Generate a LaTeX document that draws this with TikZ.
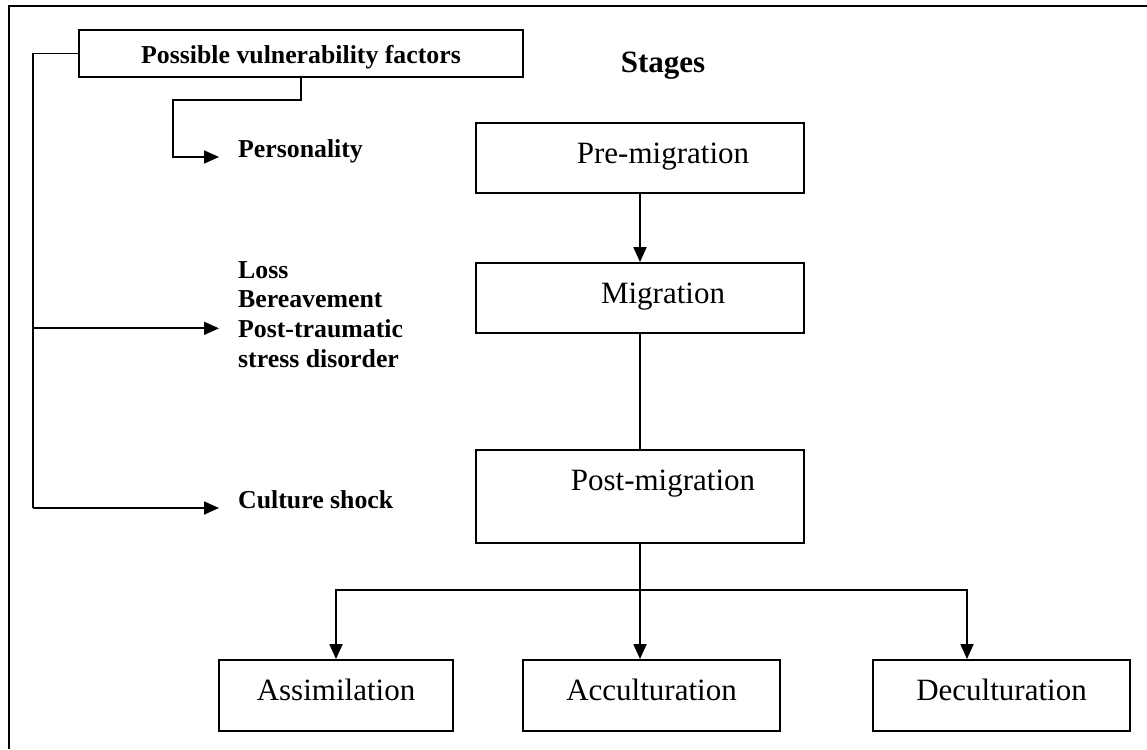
\documentclass[tikz,border=0pt]{standalone}
\usepackage{fontspec}
\setmainfont{Liberation Serif}
\usepackage{tikz}
\usetikzlibrary{arrows.meta, positioning}

\begin{document}
\begin{tikzpicture}[x=1pt, y=-1pt,
stagenode/.style={rectangle, draw, line width=1.8pt, minimum width=328pt, inner sep=0pt, text height=40pt, text depth=30pt, font=\fontsize{31}{36}\selectfont, execute at begin node=\hspace*{46pt}},
endnode/.style={rectangle, draw, line width=1.8pt, inner sep=0pt, text height=40pt, text depth=31pt, font=\fontsize{31}{36}\selectfont},
factornode/.style={inner xsep=19pt, inner ysep=0pt, align=left, font=\fontsize{25.8}{29.7}\selectfont\bfseries},
line/.style={line width=1.8pt},
arrowline/.style={line width=1.8pt, -{Triangle[length=15pt,width=13pt]}},
]
\useasboundingbox (0,0) rectangle (1147,749);
\draw[line] (9,749) -- (9,6) -- (1147,6);

%Nodes
\node[draw, line width=1.8pt, minimum width=444pt, inner sep=0pt, text height=34pt, text depth=13pt, font=\fontsize{25.8}{30}\selectfont\bfseries] at (301,53.5) (vuln) {Possible vulnerability factors};
\node[anchor=base, font=\fontsize{31}{36}\selectfont\bfseries] at (663,73) (stages) {Stages};
\node[factornode, anchor=base west] at (219,157) (pers) {Personality};
\node[factornode, anchor=north west] at (219,261) (loss) {Loss\\Bereavement\\Post-traumatic\\stress disorder};
\node[factornode, anchor=base west] at (219,508) (shock) {Culture shock};

\node[stagenode] at (640,158) (pre) {Pre-migration};
\node[stagenode] at (640,298) (mig) {Migration};
\node[stagenode, text depth=53pt] at (640,496.5) (post) {Post-migration};

\node[endnode, minimum width=234pt] at (336,695.5) (assim) {Assimilation};
\node[endnode, minimum width=257pt] at (651.5,695.5) (accul) {Acculturation};
\node[endnode, minimum width=257pt] at (1001.5,695.5) (decul) {Deculturation};

\coordinate (stem) at (33,508);
\coordinate (pbend) at (173,100);
\coordinate (lossin) at ([yshift=-14pt]loss.west);
\coordinate (split) at (640,590);

%Lines
\draw[arrowline] (vuln.south) |- (pbend) |- (pers.base west);
\draw[line] (vuln.west) -| (stem);
\draw[arrowline] (lossin -| stem) -- (lossin);
\draw[arrowline] (stem) -- (shock.base west);

\draw[arrowline] (pre) -- (mig);
\draw[line] (mig) -- (post);
\draw[line] (post) -- (split);
\draw[arrowline] (split) -- (split |- accul.north);
\draw[arrowline] (split) -| (assim.north);
\draw[arrowline] (split) -| ([xshift=-34.5pt]decul.north);

\end{tikzpicture}
\end{document}
